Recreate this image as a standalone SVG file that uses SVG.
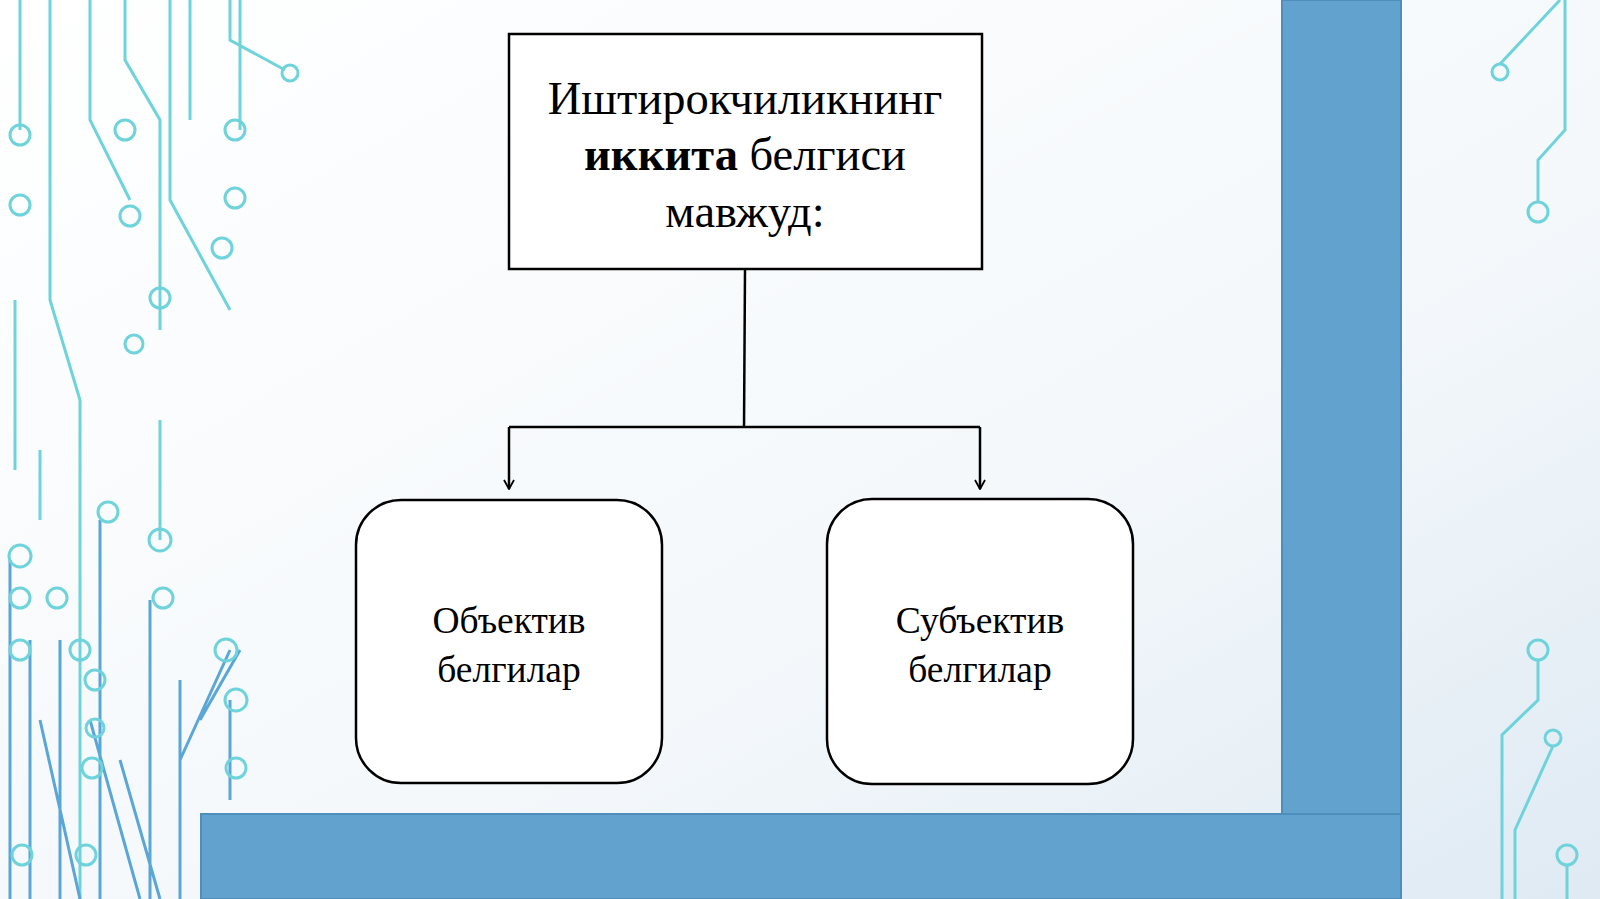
<svg xmlns="http://www.w3.org/2000/svg" width="1600" height="899" viewBox="0 0 1600 899">
<defs>
<linearGradient id="bg" x1="0" y1="0" x2="1" y2="1"><stop offset="0" stop-color="#ffffff"/><stop offset="0.6" stop-color="#f4f8fb"/><stop offset="1" stop-color="#dfeaf3"/></linearGradient>
<marker id="ah" viewBox="0 0 12 12" refX="11" refY="6" markerWidth="12" markerHeight="12" orient="auto" markerUnits="userSpaceOnUse"><path d="M2,1 L11,6 L2,11" fill="none" stroke="#000" stroke-width="1.8"/></marker>
<style>
.t{font-family:"Liberation Serif",serif;font-size:46.5px;fill:#000;text-anchor:middle}
.s{font-size:37.5px}
.c{fill:none;stroke:#6fd3dc;stroke-width:3}
.b{fill:none;stroke:#5aa6d6;stroke-width:3}
</style>
</defs>
<rect width="1600" height="899" fill="url(#bg)"/>
<g id="decor">
<path class="c" d="M20,0V130 M50,0V300 L80,400 V899 M90,0V120 L130,200 M125,0V60 L160,120 V330 M170,0V200 L230,310 M230,0V40 L285,70 M190,0V120 M240,0V130 M15,300V470 M160,420V540 M40,450V520"/>
<path class="b" d="M10,560V899 M30,640V899 M60,640V899 M100,520V899 M150,600V899 M180,680V899 M230,700V800 M40,720L80,899 M90,720L140,899 M180,760L230,650 M120,760L160,899 M200,720L240,650"/>
<g fill="none" stroke="#6fd3dc" stroke-width="3">
<circle cx="125" cy="130" r="10"/><circle cx="235" cy="130" r="10"/><circle cx="235" cy="198" r="10"/><circle cx="222" cy="248" r="10"/><circle cx="160" cy="298" r="10"/><circle cx="134" cy="344" r="9"/><circle cx="290" cy="73" r="8"/><circle cx="130" cy="216" r="10"/><circle cx="20" cy="135" r="10"/><circle cx="20" cy="205" r="10"/><circle cx="160" cy="540" r="11"/><circle cx="108" cy="512" r="10"/><circle cx="20" cy="556" r="11"/><circle cx="20" cy="598" r="10"/><circle cx="57" cy="598" r="10"/><circle cx="163" cy="598" r="10"/><circle cx="20" cy="650" r="10"/><circle cx="80" cy="650" r="10"/><circle cx="95" cy="680" r="10"/><circle cx="95" cy="728" r="9"/><circle cx="92" cy="768" r="10"/><circle cx="226" cy="650" r="11"/><circle cx="236" cy="700" r="11"/><circle cx="236" cy="768" r="10"/><circle cx="86" cy="855" r="10"/><circle cx="22" cy="855" r="10"/><circle cx="1538" cy="650" r="10"/><circle cx="1553" cy="738" r="8"/><circle cx="1567" cy="855" r="10"/><circle cx="1538" cy="212" r="10"/><circle cx="1500" cy="72" r="8"/>
</g>
<path class="c" d="M1538,660V700 L1502,735 V899 M1553,746L1515,830 V899 M1567,865V899 M1538,202V160 L1565,130 V0 M1500,64L1560,0"/>
</g>
<g id="frame">
<rect x="1282" y="0" width="119" height="814" fill="#62a2cf" stroke="#4f8dbb" stroke-width="2"/>
<rect x="201" y="814" width="1200" height="85" fill="#62a2cf" stroke="#4f8dbb" stroke-width="2"/>
</g>
<g id="connectors" stroke="#000" stroke-width="2.5" fill="none">
<path d="M745,270 L744,428"/>
<path d="M509,427 H980"/>
<path d="M509,427 V489" marker-end="url(#ah)"/>
<path d="M980,427 V489" marker-end="url(#ah)"/>
</g>
<g id="top">
<rect x="509" y="34" width="473" height="235" fill="#fff" stroke="#000" stroke-width="2.5"/>
<text class="t" x="745" y="114">Иштирокчиликнинг</text>
<text class="t" x="745" y="170"><tspan font-weight="bold">иккита</tspan> белгиси</text>
<text class="t" x="745" y="227">мавжуд:</text>
</g>
<g id="left">
<rect x="356" y="500" width="306" height="283" rx="45" fill="#fff" stroke="#000" stroke-width="2.5"/>
<text class="t s" x="509" y="633">Объектив</text>
<text class="t s" x="509" y="682">белгилар</text>
</g>
<g id="right">
<rect x="827" y="499" width="306" height="285" rx="45" fill="#fff" stroke="#000" stroke-width="2.5"/>
<text class="t s" x="980" y="633">Субъектив</text>
<text class="t s" x="980" y="682">белгилар</text>
</g>
</svg>
